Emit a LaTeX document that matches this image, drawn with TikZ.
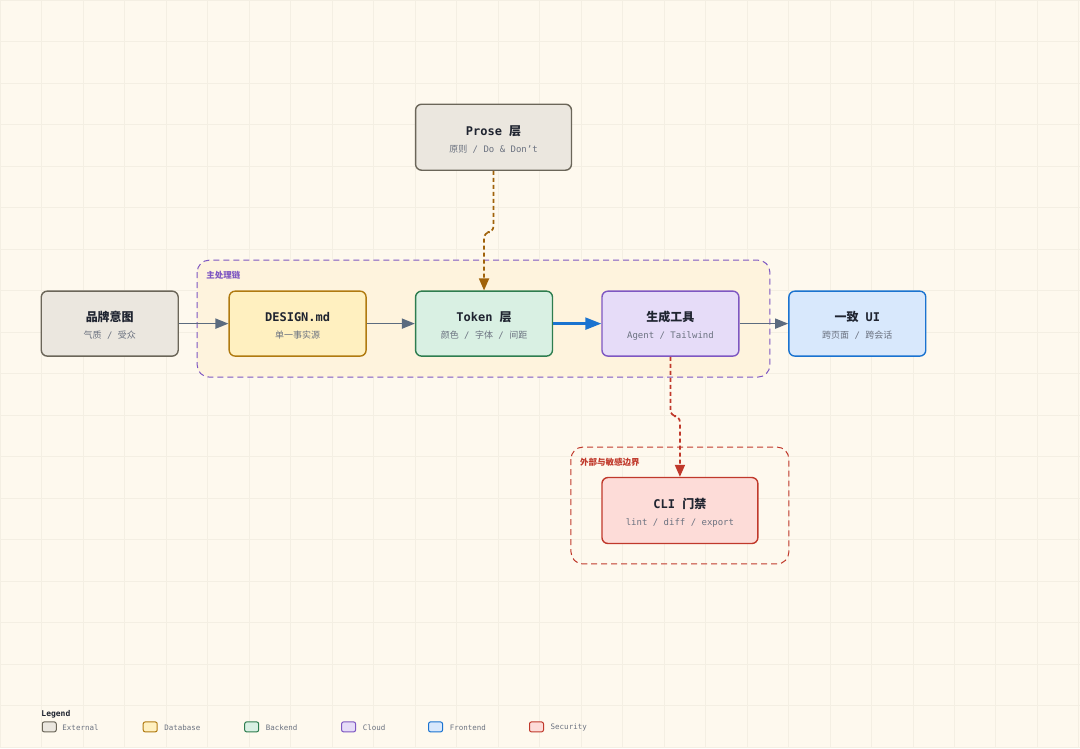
\documentclass[tikz,border=0pt]{standalone}
\usepackage{fontspec}
\usepackage{tikz}
\usetikzlibrary{arrows.meta}
\setmainfont{Liberation Sans}
\setmonofont{DejaVu Sans Mono}
\newfontfamily\cjk{Noto Sans CJK SC}
\newcommand{\ttlfont}{\rule{0pt}{14pt}\ttfamily\bfseries\fontsize{12}{14}\selectfont}
\newcommand{\subfont}{\color{inkgray}\ttfamily\fontsize{9}{11}\selectfont}

\definecolor{bgpaper}{HTML}{FEF9EE}
\definecolor{gridcol}{HTML}{F4EFE3}
\definecolor{inkdark}{HTML}{1F2430}
\definecolor{inkgray}{HTML}{6B7280}
\definecolor{extfill}{HTML}{EBE7DF}\definecolor{extline}{HTML}{6B6659}
\definecolor{dbfill}{HTML}{FFF0C0}\definecolor{dbline}{HTML}{B07A10}
\definecolor{befill}{HTML}{D9F0E3}\definecolor{beline}{HTML}{2E7D4F}
\definecolor{cloudfill}{HTML}{E6DCF8}\definecolor{cloudline}{HTML}{7E57C2}
\definecolor{fefill}{HTML}{D8E8FC}\definecolor{feline}{HTML}{1A73D0}
\definecolor{secfill}{HTML}{FDDCD8}\definecolor{secline}{HTML}{C0392B}
\definecolor{arrowgray}{HTML}{5B6B7F}
\definecolor{prosebrown}{HTML}{A0620A}
\definecolor{chainfill}{HTML}{FEF3DD}

\begin{document}
\begin{tikzpicture}
	[x=1pt,y=-1pt,
	box/.style={rectangle,rounded corners=6pt,line width=1.4pt,minimum width=137pt,minimum height=65pt,align=center,text=inkdark,inner sep=0pt},
	wide/.style={minimum width=156pt,minimum height=66pt},
	edge/.style={-{Triangle[length=13pt,width=10pt]},line width=1.7pt,draw=arrowgray},
	mainedge/.style={-{Triangle[length=16pt,width=12pt]},line width=2.4pt,draw=feline},
	dashedge/.style={-{Triangle[length=12pt,width=10pt]},line width=1.7pt,dash pattern=on 4pt off 3pt,rounded corners=6pt},
	group/.style={rounded corners=12pt,line width=1pt,dash pattern=on 6pt off 4pt},
	grouplabel/.style={font=\cjk\bfseries\fontsize{8.5}{10}\selectfont,anchor=west,inner sep=0pt},
	legbox/.style={rectangle,rounded corners=2pt,line width=1pt,minimum width=14pt,minimum height=10pt,inner sep=0pt},
	legtext/.style={font=\ttfamily\fontsize{7.5}{8}\selectfont,text=inkgray,anchor=west,inner sep=0pt}]

	% paper and grid
	\fill[bgpaper] (0,0) rectangle (1080,748);
	\foreach \k in {0,...,26} \draw[gridcol,line width=0.6pt] (41.5*\k,0) -- (41.5*\k,748);
	\foreach \k in {0,...,18} \draw[gridcol,line width=0.6pt] (0,41.5*\k) -- (1080,41.5*\k);
	\useasboundingbox (0,0) rectangle (1080,748);

	% groups
	\draw[group,draw=cloudline,fill=chainfill] (197,260) rectangle (770,377);
	\node[grouplabel,text=cloudline] (chainlbl) at (206,275) {主处理链};
	\draw[group,draw=secline] (571,447) rectangle (789,564);
	\node[grouplabel,text=secline] (seclbl) at (580,462) {外部与敏感边界};

	% nodes
	\node[box,wide,fill=extfill,draw=extline] (prose) at (493.5,137)
		{{\ttlfont Prose {\cjk 层}}\\[5pt]{\subfont{\cjk 原则} / Do \& Don’t}};
	\node[box,fill=extfill,draw=extline] (brand) at (109.5,323.5)
		{{\ttlfont\cjk 品牌意图}\\[5pt]{\subfont{\cjk 气质} / {\cjk 受众}}};
	\node[box,fill=dbfill,draw=dbline] (design) at (297.5,323.5)
		{{\ttlfont DESIGN.md}\\[5pt]{\subfont\cjk 单一事实源}};
	\node[box,fill=befill,draw=beline] (token) at (484,323.5)
		{{\ttlfont Token {\cjk 层}}\\[5pt]{\subfont{\cjk 颜色} / {\cjk 字体} / {\cjk 间距}}};
	\node[box,fill=cloudfill,draw=cloudline] (gen) at (670.5,323.5)
		{{\ttlfont\cjk 生成工具}\\[5pt]{\subfont Agent / Tailwind}};
	\node[box,fill=fefill,draw=feline] (ui) at (857.5,323.5)
		{{\ttlfont{\cjk 一致} UI}\\[5pt]{\subfont{\cjk 跨页面} / {\cjk 跨会话}}};
	\node[box,wide,fill=secfill,draw=secline] (cli) at (680,510.5)
		{{\ttlfont CLI {\cjk 门禁}}\\[5pt]{\subfont lint / diff / export}};

	% connectors
	\draw[edge] (brand) -- (design);
	\draw[edge] (design) -- (token);
	\draw[mainedge] (token) -- (gen);
	\draw[edge] (gen) -- (ui);
	\coordinate (prosebend) at (493.5,232);
	\draw[dashedge,draw=prosebrown] (prose.south) -- (prosebend) -| (token.north);
	\coordinate (clibend) at (670.5,416);
	\draw[dashedge,draw=secline] (gen.south) -- (clibend) -| (cli.north);

	% legend
	\node[anchor=west,inner sep=0pt,text=inkdark,font=\ttfamily\bfseries\fontsize{8}{9}\selectfont] (leg) at (41,714) {Legend};
	\node[legbox,fill=extfill,draw=extline] (l1) at (49,727) {};
	\node[legtext] (t1) at (62,727.5) {External};
	\node[legbox,fill=dbfill,draw=dbline] (l2) at (150,727) {};
	\node[legtext] (t2) at (164,727.5) {Database};
	\node[legbox,fill=befill,draw=beline] (l3) at (251.5,727) {};
	\node[legtext] (t3) at (265.5,727.5) {Backend};
	\node[legbox,fill=cloudfill,draw=cloudline] (l4) at (348.5,727) {};
	\node[legtext] (t4) at (362.5,727.5) {Cloud};
	\node[legbox,fill=fefill,draw=feline] (l5) at (435.5,727) {};
	\node[legtext] (t5) at (449.5,727.5) {Frontend};
	\node[legbox,fill=secfill,draw=secline] (l6) at (536.5,727) {};
	\node[legtext] (t6) at (550.5,727.5) {Security};
\end{tikzpicture}
\end{document}
